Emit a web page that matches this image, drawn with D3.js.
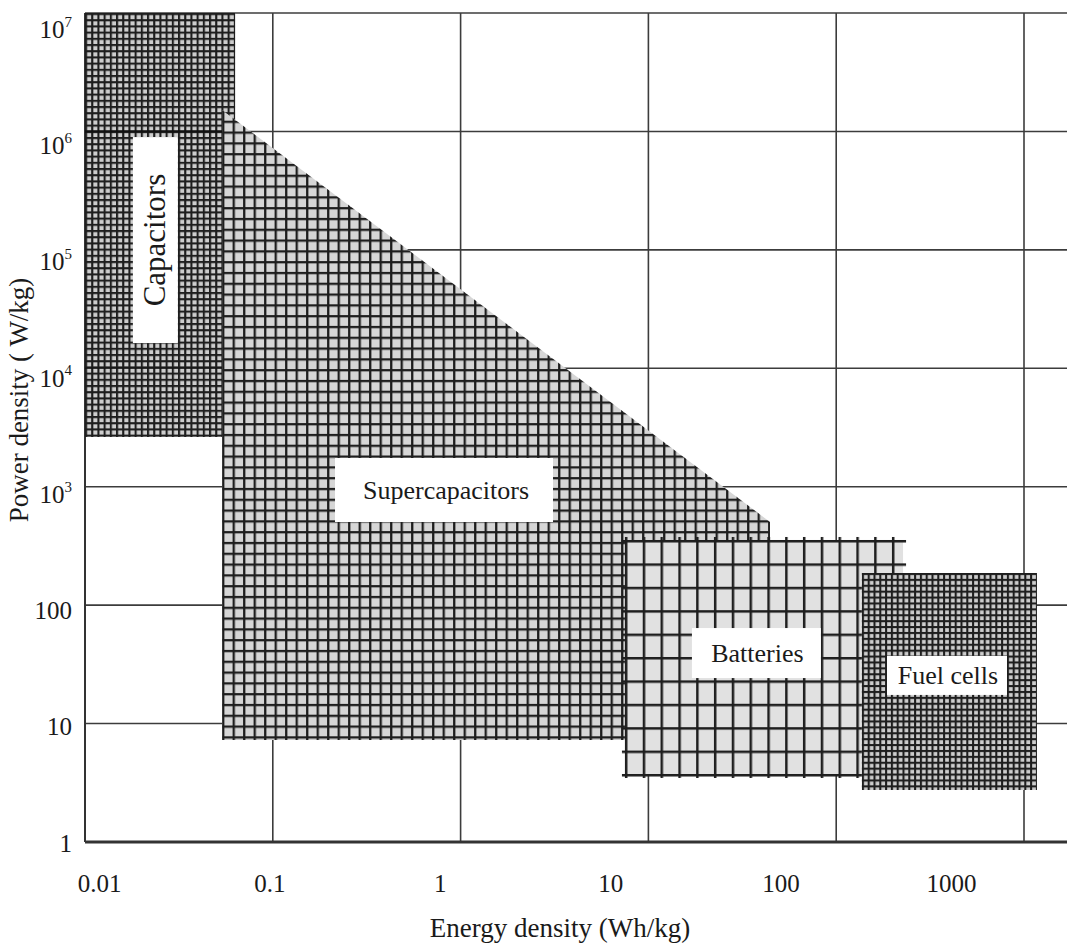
<!DOCTYPE html>
<html>
<head>
<meta charset="utf-8">
<script src="https://cdn.jsdelivr.net/npm/d3@7"></script>
<style>
  html, body { margin: 0; padding: 0; background: #fff; }
  svg { display: block; }
  text { font-family: "Liberation Serif", "DejaVu Serif", serif; fill: #1a1a1a; }
</style>
</head>
<body>
<svg id="chart" width="1067" height="947"></svg>
<script>
// Ragone plot: power density vs energy density of storage technologies

// Decade positions used for the grid
const gridEnergy = [0.01, 0.1, 1, 10, 100, 1000];
const gridPower = [1, 10, 100, 1e3, 1e4, 1e5, 1e6, 1e7];

// Axis tick labels
const xTickValues = [0.01, 0.1, 1, 10, 100, 1000];
const xTickLabels = ["0.01", "0.1", "1", "10", "100", "1000"];
const yTickValues = [1, 10, 100, 1e3, 1e4, 1e5, 1e6, 1e7];
const yTickLabels = ["1", "10", "100", "10^3", "10^4", "10^5", "10^6", "10^7"];

// Technology regions: [energy Wh/kg, power W/kg] outlines
const capacitors = [[0.01, 1e7], [0.063, 1e7], [0.063, 2630], [0.01, 2630]];
const supercapacitors = [[0.0537, 1.52e6], [44.4, 504], [44.4, 7.27], [0.0537, 7.27]];
const batteries = [[7.5, 355], [227, 355], [227, 3.68], [7.5, 3.68]];
const fuelCells = [[137, 187], [1172, 187], [1172, 2.75], [137, 2.75]];

// Region names and where their captions sit [energy, power]
const regionNames = ["Capacitors", "Supercapacitors", "Batteries", "Fuel cells"];
const regionCaptionAt = [[0.0237, 1.21e5], [0.816, 938], [37.6, 39.4], [389, 25.5]];

const svg = d3.select("#chart");
const W = 1067, H = 947;

// Scales: plotting scales follow the grid, label scales place the tick text
const x = d3.scaleLog().domain([0.01, 1000]).range([85, 1024]);
const y = d3.scaleLog().domain([1, 1e7]).range([842, 13]);
const xLabelScale = d3.scaleLog().domain([0.01, 1000]).range([99, 951]);
const yLabelScale = d3.scaleLog().domain([1, 1e7]).range([843, 29]);

// Hatch patterns
const defs = svg.append("defs");
function gridPattern(id, dx, dy, stroke, sw, ox, oy) {
  const p = defs.append("pattern")
    .attr("id", id)
    .attr("patternUnits", "userSpaceOnUse")
    .attr("width", dx).attr("height", dy)
    .attr("x", ox).attr("y", oy);
  p.append("line").attr("x1", sw / 2).attr("x2", sw / 2).attr("y1", 0).attr("y2", dy)
    .attr("stroke", stroke).attr("stroke-width", sw);
  p.append("line").attr("y1", sw / 2).attr("y2", sw / 2).attr("x1", 0).attr("x2", dx)
    .attr("stroke", stroke).attr("stroke-width", sw);
}

const poly = d3.line().x(d => x(d[0])).y(d => y(d[1]));
const closed = pts => poly(pts) + "Z";

// Grid
const grid = svg.append("g").attr("stroke", "#3c3c3c").attr("stroke-width", 1.6);
grid.selectAll("line.h").data(gridPower).join("line")
  .attr("class", "h")
  .attr("x1", x(0.01)).attr("x2", W)
  .attr("y1", d => y(d)).attr("y2", d => y(d));
grid.selectAll("line.v").data(gridEnergy).join("line")
  .attr("class", "v")
  .attr("x1", d => x(d)).attr("x2", d => x(d))
  .attr("y1", y(1e7)).attr("y2", y(1));
// Axis frame lines
svg.append("line").attr("x1", x(0.01)).attr("x2", W).attr("y1", y(1)).attr("y2", y(1))
  .attr("stroke", "#333").attr("stroke-width", 3);
svg.append("line").attr("x1", x(0.01)).attr("x2", x(0.01)).attr("y1", y(1e7)).attr("y2", y(1))
  .attr("stroke", "#333").attr("stroke-width", 2);

// Region drawing helper: grey fill plus hatch lines that may run slightly past the edges
function region(pts, id, dx, dy, bg, sw, overhang) {
  const x0 = x(d3.min(pts, d => d[0])), y0 = y(d3.max(pts, d => d[1]));
  gridPattern(id, dx, dy, "#1e1e1e", sw, x0, y0);
  const g = svg.append("g");
  g.append("path").attr("d", closed(pts)).attr("fill", bg);
  if (overhang > 0) {
    const xs = d3.extent(pts, d => x(d[0])), ys = d3.extent(pts, d => y(d[1]));
    g.append("rect")
      .attr("x", xs[0] - overhang).attr("y", ys[0] - overhang)
      .attr("width", xs[1] - xs[0] + 2 * overhang)
      .attr("height", ys[1] - ys[0] + 2 * overhang)
      .attr("fill", `url(#${id})`);
  } else {
    g.append("path").attr("d", closed(pts)).attr("fill", `url(#${id})`);
  }
  return g;
}

// Capacitors (fine dark hatch)
region(capacitors, "hatchCap", 6.2, 6.2, "#cdcdcd", 2.1, 0);
// grid lines that show through the capacitor block
svg.append("g").selectAll("line").data([1e6, 1e4]).join("line")
  .attr("x1", x(0.01)).attr("x2", x(0.063))
  .attr("y1", d => y(d)).attr("y2", d => y(d))
  .attr("stroke", "#111").attr("stroke-width", d => d === 1e6 ? 2.4 : 1.4)
  .attr("opacity", d => d === 1e6 ? 1 : 0.7);

// Supercapacitors (medium hatch)
region(supercapacitors, "hatchSuper", 10.5, 10.8, "#d6d6d6", 2.3, 0);

// Batteries (coarse hatch)
region(batteries, "hatchBatt", 17.8, 23.4, "#e1e1e1", 2.5, 3);

// Fuel cells (fine dark hatch)
region(fuelCells, "hatchFuel", 5.8, 5.9, "#cdcdcd", 2.1, 0);

// Region captions on white boxes
const boxSize = [[45, 206], [218, 64], [129, 50], [120, 39]];
const captions = svg.append("g");
regionNames.forEach((name, i) => {
  const cx = x(regionCaptionAt[i][0]), cy = y(regionCaptionAt[i][1]);
  const [bw, bh] = boxSize[i];
  captions.append("rect")
    .attr("x", cx - bw / 2).attr("y", cy - bh / 2)
    .attr("width", bw).attr("height", bh)
    .attr("fill", "#fff");
  const t = captions.append("text")
    .attr("text-anchor", "middle")
    .attr("font-size", i === 0 ? 31 : 26)
    .text(name);
  if (i === 0) {
    t.attr("transform", `translate(${cx + 10},${cy}) rotate(-90)`);
  } else {
    t.attr("x", cx + (i === 1 ? 2 : 1)).attr("y", cy).attr("dy", "0.33em");
  }
});

// X tick labels
const xAxis = d3.axisBottom(xLabelScale)
  .tickValues(xTickValues)
  .tickFormat((d, i) => xTickLabels[i])
  .tickSize(0).tickPadding(0);
const gx = svg.append("g").attr("transform", "translate(0,874)").call(xAxis);
gx.select(".domain").remove();
gx.selectAll("text")
  .attr("font-size", 25)
  .attr("font-family", "Liberation Serif, DejaVu Serif, serif")
  .attr("fill", "#1a1a1a");

// Y tick labels with superscript exponents
const gy = svg.append("g");
yTickValues.forEach((v, i) => {
  const parts = yTickLabels[i].split("^");
  const t = gy.append("text")
    .attr("x", 72).attr("y", yLabelScale(v)).attr("dy", "0.35em")
    .attr("text-anchor", "end")
    .attr("font-size", 25);
  t.append("tspan").text(parts[0]);
  if (parts[1]) {
    t.append("tspan").attr("font-size", 15).attr("dy", "-0.75em").text(parts[1]);
  }
});

// Axis titles
svg.append("text")
  .attr("x", 560).attr("y", 937)
  .attr("text-anchor", "middle")
  .attr("font-size", 27)
  .text("Energy density (Wh/kg)");
svg.append("text")
  .attr("transform", "translate(28,400) rotate(-90)")
  .attr("text-anchor", "middle")
  .attr("font-size", 27)
  .text("Power density ( W/kg)");
</script>
</body>
</html>
